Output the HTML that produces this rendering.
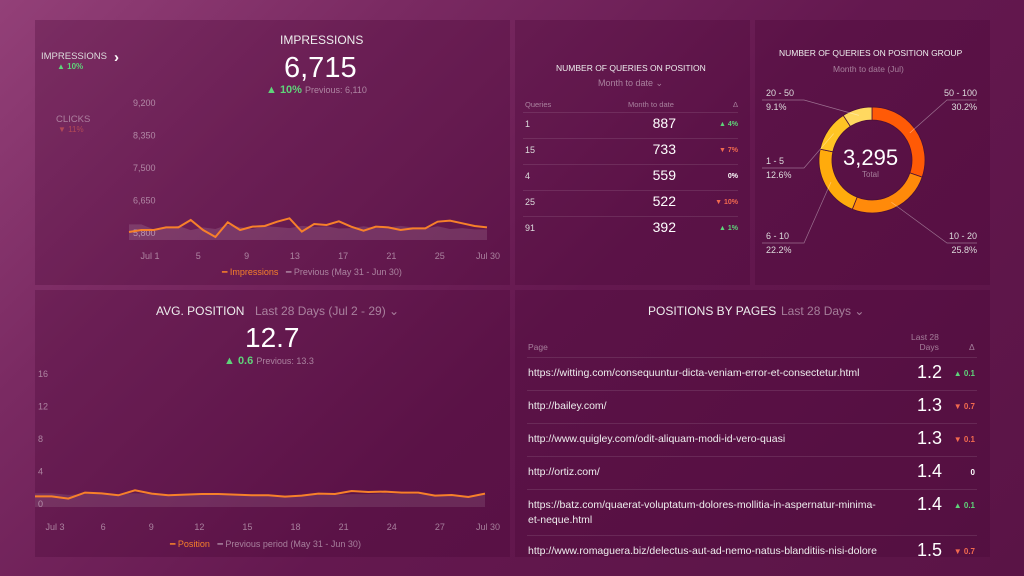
<!DOCTYPE html>
<html><head><meta charset="utf-8"><style>
*{margin:0;padding:0;box-sizing:border-box}
body{width:1024px;height:576px;overflow:hidden;font-family:"Liberation Sans",sans-serif;color:#fff;
background:linear-gradient(135deg,#934078 0%,#7a2a62 25%,#64184f 55%,#5a1446 100%);position:relative}
.p{position:absolute;background:rgba(70,5,50,0.28);}
.t{position:absolute;white-space:nowrap}
.dim{color:rgba(255,255,255,0.45)}
.g{color:#5fd47a}.r{color:#f26a4f}
.row{position:absolute;border-top:1px solid rgba(255,255,255,0.1)}
svg{position:absolute;left:0;top:0}
</style></head><body>
<div class="p" style="left:35px;top:20px;width:475px;height:265px"></div>
<div class="p" style="left:515px;top:20px;width:235px;height:265px"></div>
<div class="p" style="left:755px;top:20px;width:235px;height:265px"></div>
<div class="p" style="left:35px;top:290px;width:475px;height:267px"></div>
<div class="p" style="left:515px;top:290px;width:475px;height:267px"></div>

<!-- Impressions -->
<div class="t" style="left:41px;top:51px;font-size:9.5px;color:#ddd">IMPRESSIONS</div>
<div class="t g" style="left:57px;top:62px;font-size:8px;font-weight:bold">▲ 10%</div>
<div class="t" style="left:114px;top:49px;font-size:15px;font-weight:bold">›</div>
<div class="t" style="left:56px;top:114px;font-size:9.5px;color:rgba(255,255,255,0.4)">CLICKS</div>
<div class="t" style="left:58px;top:125px;font-size:8px;color:rgba(242,106,79,0.5)">▼ 11%</div>
<div class="t" style="left:280px;top:33px;font-size:12px;color:#eee">IMPRESSIONS</div>
<div class="t" style="left:284px;top:52px;font-size:29px;font-weight:300">6,715</div>
<div class="t" style="left:266px;top:84px;font-size:11px"><span class="g" style="font-weight:bold">▲ 10%</span> <span class="dim" style="font-size:9px">Previous: 6,110</span></div>
<div class="t dim" style="left:222px;top:267px;font-size:9px"><span style="color:#f7802a">━ Impressions</span> &nbsp; <span>━ Previous (May 31 - Jun 30)</span></div>

<!-- Queries table -->
<div class="t" style="left:556px;top:63px;font-size:8.5px;color:#eee">NUMBER OF QUERIES ON POSITION</div>
<div class="t dim" style="left:598px;top:78px;font-size:9px">Month to date ⌄</div>
<div class="t dim" style="left:525px;top:100px;font-size:7.5px">Queries</div>
<div class="t dim" style="left:628px;top:100px;font-size:7.5px">Month to date</div>
<div class="t dim" style="left:733px;top:100px;font-size:7.5px">Δ</div>
<div id="qt"></div>

<!-- Donut -->
<div class="t" style="left:779px;top:48px;font-size:8.5px;color:#eee">NUMBER OF QUERIES ON POSITION GROUP</div>
<div class="t dim" style="left:833px;top:64px;font-size:8.5px">Month to date (Jul)</div>
<div class="t" style="left:843px;top:145px;font-size:22px;font-weight:300">3,295</div>
<div class="t dim" style="left:862px;top:170px;font-size:8px">Total</div>

<!-- Avg position -->
<div class="t" style="left:156px;top:304px;font-size:12px;color:#eee">AVG. POSITION</div>
<div class="t dim" style="left:255px;top:304px;font-size:12px">Last 28 Days (Jul 2 - 29) ⌄</div>
<div class="t" style="left:245px;top:322px;font-size:28px;font-weight:300">12.7</div>
<div class="t" style="left:224px;top:355px;font-size:11px"><span class="g" style="font-weight:bold">▲ 0.6</span> <span class="dim" style="font-size:9px">Previous: 13.3</span></div>
<div class="t dim" style="left:170px;top:539px;font-size:9px"><span style="color:#f7802a">━ Position</span> &nbsp; <span>━ Previous period (May 31 - Jun 30)</span></div>

<!-- Pages -->
<div class="t" style="left:648px;top:304px;font-size:12px;color:#eee">POSITIONS BY PAGES</div>
<div class="t dim" style="left:781px;top:304px;font-size:12px">Last 28 Days ⌄</div>
<div class="t dim" style="left:528px;top:342px;font-size:8.5px">Page</div>
<div class="t dim" style="left:911px;top:332px;font-size:8.5px;text-align:right;line-height:10px">Last 28<br>&nbsp;&nbsp;Days</div>
<div class="t dim" style="left:969px;top:342px;font-size:8.5px">Δ</div>
<div id="pt"></div>

<svg id="sv" width="1024" height="576"></svg>

<script>
// Impressions chart data
const impTicks=[5800,6650,7500,8350,9200];
const impXLabels=["Jul 1","5","9","13","17","21","25","Jul 30"];
const impValues=[5800,5852,5852,5922,5922,6115,5852,5669,6055,5852,5940,5957,6070,6158,5810,6010,5983,6080,5940,5835,5940,5922,5852,5896,5896,6070,6097,6027,5957,5922];
const impPrev=[6000,6000,5870,5900,5960,5850,5920,5880,5990,5930,5880,5950,5930,5900,5960,5930,5950,5890,5900,5950,5900,5920,5960,5920,5890,5950,5880,5900,5870,5870];
// Position chart data
const posTicks=[0,4,8,12,16];
const posXLabels=["Jul 3","6","9","12","15","18","21","24","27","Jul 30"];
const posValues=[0.82,0.82,0.54,1.28,1.19,0.95,1.57,1.15,0.95,1.03,1.11,1.11,1.03,0.95,0.95,0.78,0.91,1.15,1.11,1.48,1.36,1.40,1.28,1.28,0.91,0.99,0.74,1.15];
const posPrev=[1.2,1.2,1.0,1.1,1.2,1.1,1.2,1.1,1.0,1.0,1.1,1.1,1.0,1.0,1.0,0.9,1.0,1.0,1.0,1.1,1.1,1.2,1.1,1.1,1.0,1.0,0.9,1.0];
// Donut data
const grpLabels=["50 - 100","10 - 20","6 - 10","1 - 5","20 - 50"];
const grpPct=[30.2,25.8,22.2,12.6,9.1];
// Queries table
const qNames=["1","15","4","25","91"];
const qVals=["887","733","559","522","392"];
const qDelta=["▲ 4%","▼ 7%","0%","▼ 10%","▲ 1%"];
// Pages table
const pgUrls=["https://witting.com/consequuntur-dicta-veniam-error-et-consectetur.html","http://bailey.com/","http://www.quigley.com/odit-aliquam-modi-id-vero-quasi","http://ortiz.com/","https://batz.com/quaerat-voluptatum-dolores-mollitia-in-aspernatur-minima-<br>et-neque.html","http://www.romaguera.biz/delectus-aut-ad-nemo-natus-blanditiis-nisi-dolore"];
const pgVals=["1.2","1.3","1.3","1.4","1.4","1.5"];
const pgDelta=["▲ 0.1","▼ 0.7","▼ 0.1","0","▲ 0.1","▼ 0.7"];

const NS="http://www.w3.org/2000/svg",sv=document.getElementById('sv');
function mk(tag,at,name){const e=document.createElementNS(NS,tag);for(const k in at)e.setAttribute(k,at[k]);


sv.appendChild(e);return e;}
function txt(x,y,s,sz,fill,anchor,name){const e=mk('text',{x:x,y:y,'font-size':sz,fill:fill,'text-anchor':anchor||'start','font-family':'Liberation Sans, sans-serif'},name);e.textContent=s;return e;}

// impressions
const iy=v=>232-(v-5800)*(130/3400), ix=i=>129+i*(487-129)/29;
impTicks.forEach(t=>txt(133,iy(t)+4,t.toLocaleString('en-US'),9,'rgba(255,255,255,0.45)','start','y-tick'));
impXLabels.forEach((l,i)=>txt(150+i*(488-150)/7,259,l,9,'rgba(255,255,255,0.45)','middle','x-tick'));
let pa='M'+ix(0)+',240 '+impPrev.map((v,i)=>'L'+ix(i)+','+iy(v)).join(' ')+' L'+ix(29)+',240Z';
mk('path',{d:pa,fill:'rgba(255,255,255,0.12)'},'previous-area');
mk('path',{d:'M'+impValues.map((v,i)=>ix(i)+','+iy(v)).join(' L'),fill:'none',stroke:'#f7802a','stroke-width':2},'impressions-line');

// position
const py=v=>503-v*(130/16), px=i=>35+i*(485-35)/27;
posTicks.forEach(t=>txt(38,py(t)+4,t,9,'rgba(255,255,255,0.45)','start','y-tick'));
posXLabels.forEach((l,i)=>txt(55+i*(488-55)/9,530,l,9,'rgba(255,255,255,0.45)','middle','x-tick'));
mk('path',{d:'M'+px(0)+',507 '+posPrev.map((v,i)=>'L'+px(i)+','+py(v)).join(' ')+' L'+px(27)+',507Z',fill:'rgba(255,255,255,0.1)'},'previous-area');
mk('path',{d:'M'+posValues.map((v,i)=>px(i)+','+py(v)).join(' L'),fill:'none',stroke:'#f7802a','stroke-width':2},'position-line');

// donut
const cx=872,cy=160,R=53,r=40,cols=['#ff5a06','#ff8a0a','#ffab0c','#ffc424','#ffd860'];
const lblPos=[[977,98,'end'],[977,241,'end'],[766,241,'start'],[766,166,'start'],[766,98,'start']];
let a0=-Math.PI/2;const tot=grpPct.reduce((a,b)=>a+b,0);
grpPct.forEach((p,i)=>{const a1=a0+p/tot*2*Math.PI,lg=(a1-a0)>Math.PI?1:0;
const P=(rad,a)=>[cx+rad*Math.cos(a),cy+rad*Math.sin(a)];
const [x1,y1]=P(R,a0),[x2,y2]=P(R,a1),[x3,y3]=P(r,a1),[x4,y4]=P(r,a0);
mk('path',{d:`M${x1},${y1}A${R},${R} 0 ${lg} 1 ${x2},${y2}L${x3},${y3}A${r},${r} 0 ${lg} 0 ${x4},${y4}Z`,fill:cols[i],stroke:'#4a0f38','stroke-width':0.8},'donut-slice');
const am=(a0+a1)/2,[mx,my]=P((R+r)/2,am),L=lblPos[i];
const ex=L[2]=='end'?L[0]-30:L[0]+38;
mk('polyline',{points:`${mx},${my} ${ex},${L[1]+2} ${L[2]=='end'?L[0]:L[0]-4},${L[1]+2}`,fill:'none',stroke:'rgba(255,255,255,0.4)','stroke-width':0.7},'leader-line');
txt(L[0],L[1]-2,grpLabels[i],9,'#ddd',L[2],'slice-label');
txt(L[0],L[1]+12,p.toFixed(1)+'%',9,'#ddd',L[2],'slice-percent');
a0=a1;});

// queries table
const qt=document.getElementById('qt');
qNames.forEach((n,i)=>{const y=112+i*26;
const d=document.createElement('div');


const c=qDelta[i][0]=='▲'?'g':qDelta[i][0]=='▼'?'r':'';
d.innerHTML=`<div class="row" style="left:523px;top:${y}px;width:215px"></div>
<div class="t" style="left:525px;top:${y+7}px;font-size:9px;color:#ddd">${n}</div>
<div class="t" style="left:620px;top:${y+3}px;width:56px;text-align:right;font-size:14px;font-weight:300">${qVals[i]}</div>
<div class="t ${c}" style="left:690px;top:${y+9}px;width:48px;text-align:right;font-size:7px;font-weight:bold">${qDelta[i]}</div>`;
qt.appendChild(d);});

// pages table
const pt=document.getElementById('pt');let y=357;
pgUrls.forEach((u,i)=>{const h=u.includes('<br>')?46:33;
const d=document.createElement('div');


const c=pgDelta[i][0]=='▲'?'g':pgDelta[i][0]=='▼'?'r':'';
d.innerHTML=`<div class="row" style="left:527px;top:${y}px;width:450px"></div>
<div class="t" style="left:528px;top:${y+9}px;font-size:10.5px;line-height:15px;color:#eee">${u}</div>
<div class="t" style="left:900px;top:${y+5}px;width:42px;text-align:right;font-size:18px;font-weight:300">${pgVals[i]}</div>
<div class="t ${c}" style="left:946px;top:${y+12}px;width:29px;text-align:right;font-size:8px;font-weight:bold">${pgDelta[i]}</div>`;
pt.appendChild(d);y+=h;});
</script>
</body></html>
